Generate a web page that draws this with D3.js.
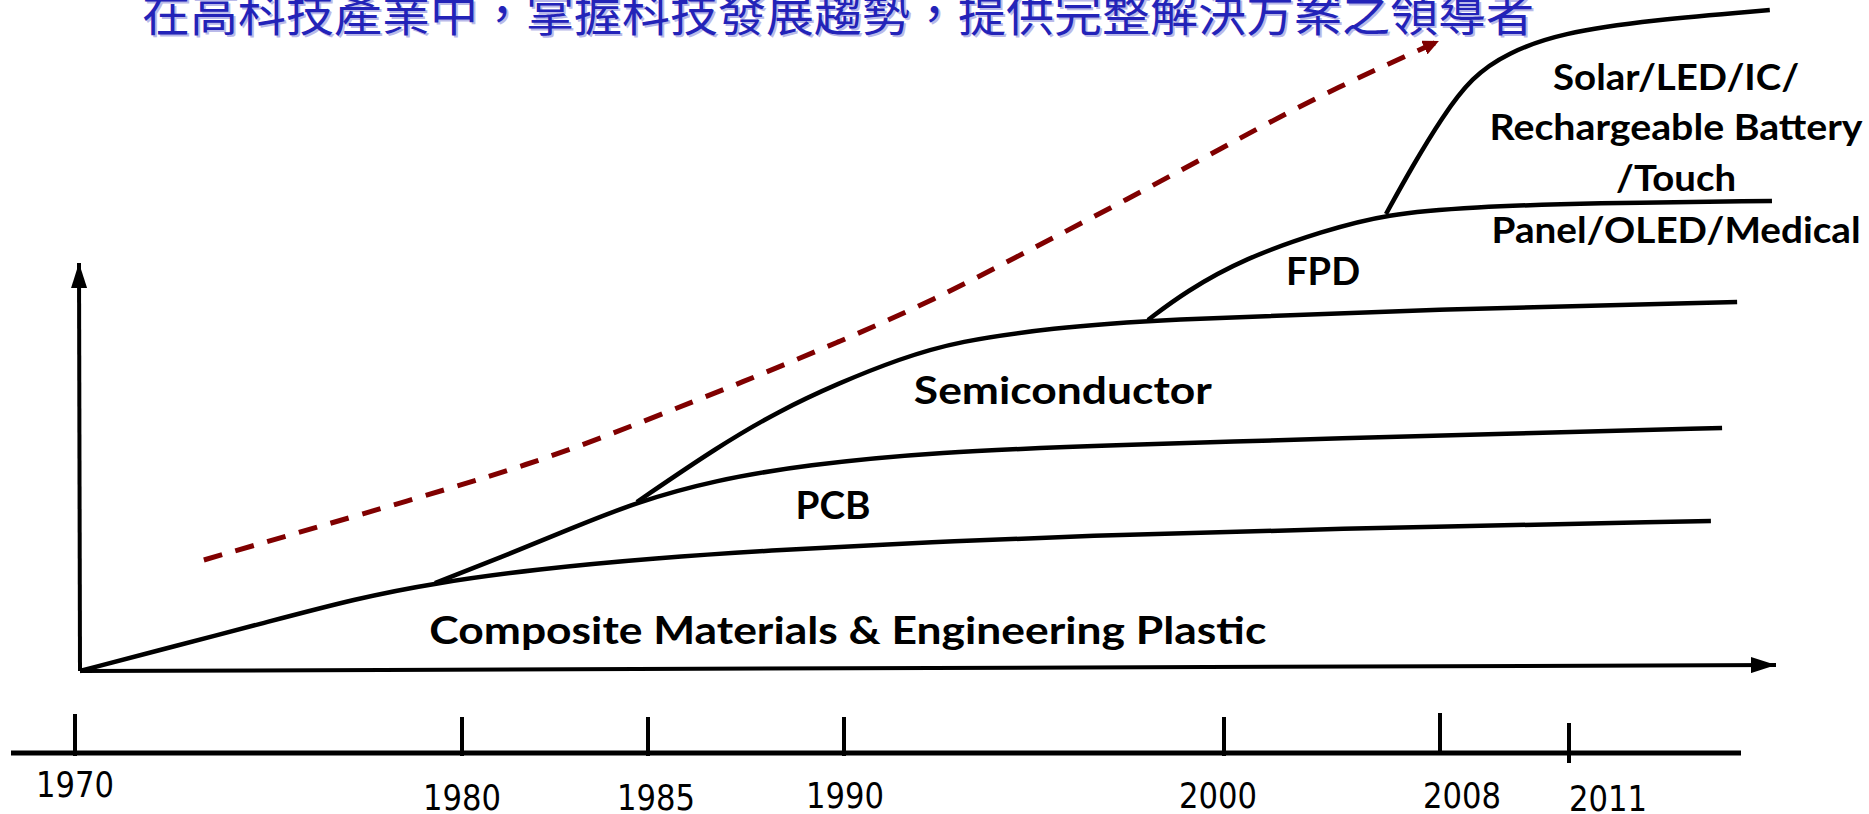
<!DOCTYPE html>
<html><head><meta charset="utf-8">
<script src="https://cdn.jsdelivr.net/npm/d3@7"></script>
<style>html,body{margin:0;padding:0;background:#fff;overflow:hidden}</style>
</head><body>
<svg id="chart" width="1869" height="814"></svg>
<script>
// ---------------- DATA ----------------
const titleText = "在高科技產業中，掌握科技發展趨勢，提供完整解決方案之領導者";
const tickYears = [1970, 1980, 1985, 1990, 2000, 2008, 2011];
const tickLabels = ["1970", "1980", "1985", "1990", "2000", "2008", "2011"];

// each curve: [year, level]
const compositeCurve = [[1970.13,0],[1972.69,6.5],[1974.68,11.5],[1977.31,18.25],[1979.30,22],[1982.02,25.5],[1985.20,28.25],[1988.24,30.25],[1992.39,32.25],[1996.16,33.75],[2003.48,35.5],[2014.30,37.5]];
const pcbCurve = [[1979.30,22],[1981.21,29],[1982.96,35.75],[1984.70,42.25],[1986.73,47.75],[1989.01,51.5],[1992.39,54.75],[1997.11,56.5],[2004.74,58.25],[2010.14,59.5],[2014.56,60.75]];
const semiCurve = [[1984.70,42.25],[1986.81,56.25],[1988.34,65],[1989.87,72],[1991.45,78],[1993.0,82.5],[1995.53,85.75],[1998.0,87.75],[2007.93,90.5],[2014.91,92.25]];
const fpdCurve = [[1998.0,87.75],[1998.97,94.75],[2000.78,103.25],[2003.67,110],[2006.0,114.25],[2008.74,116],[2011.51,117],[2015.72,117.5]];
const newFieldsCurve = [[2006.0,114.25],[2006.96,126],[2008.05,138.5],[2008.74,148.5],[2009.56,154.5],[2010.81,159.5],[2012.91,162.75],[2015.67,165.25]];
const trendCurve = [[1973.33,27.75],[1977.34,39],[1982.02,52],[1984.97,62.75],[1987.42,72.25],[1989.87,82.25],[1992.37,92.75],[1994.89,105.25],[1997.42,117.75],[1999.95,130.75],[2003.48,143.75],[2007.96,157.5]];

const fieldLabels = ["Composite Materials & Engineering Plastic", "PCB", "Semiconductor", "FPD"];
const fieldLabelAnchors = [[1990.1,6.75],[1989.72,38],[1995.76,66.75],[2003.67,96.5]];
const newFieldLines = ["Solar/LED/IC/", "Rechargeable Battery", "/Touch", "Panel/OLED/Medical"];
const newFieldAnchors = [[2013.49,145.25],[2013.49,132.75],[2013.49,120],[2013.49,107]];

// ---------------- LAYOUT ----------------
const L = {
  xRange: [75, 462, 648, 844, 1224, 1440, 1569],
  yRange: [671, 271],
  yAxisTop: 263, axisOriginX: 80, axisOriginY: 671, xAxisEndX: 1776, xAxisEndY: 665,
  timelineY: 753, timelineX0: 11, timelineX1: 1741,
  tickTop: [714, 717, 717, 717, 717, 713, 723],
  tickBottom: [756, 756, 756, 756, 756, 753, 763],
  labelDx: [0, 0, 8, 1, -6, 22, 39],
  labelBaseline: [797, 810, 810, 808, 808, 808, 811],
  fieldLabelWidths: [837, 75, 298, 74],
  newFieldWidths: [246, 373, 120, 369]
};

const svg = d3.select("#chart");
const x = d3.scaleLinear().domain(tickYears).range(L.xRange);
const y = d3.scaleLinear().domain([0, 100]).range(L.yRange);

const defs = svg.append("defs");
function marker(id, color, len, wid) {
  defs.append("marker").attr("id", id)
    .attr("markerUnits", "userSpaceOnUse")
    .attr("viewBox", `0 0 ${len} ${wid}`)
    .attr("markerWidth", len).attr("markerHeight", wid)
    .attr("refX", len).attr("refY", wid / 2)
    .attr("orient", "auto")
    .append("path").attr("d", `M0,0 L${len},${wid/2} L0,${wid} Z`).attr("fill", color);
}
marker("blackArrow", "#000", 25, 16);
marker("redArrow", "#800000", 16, 15);

// Title
const titleG = svg.append("g").attr("font-family", "'Noto Sans CJK TC','Noto Sans CJK SC',sans-serif").attr("font-size", 48);
titleG.append("text").attr("x", 144).attr("y", 33).attr("fill", "#9c9ce0").attr("opacity", 0.7).text(titleText);
titleG.append("text").attr("x", 142).attr("y", 31).attr("fill", "#2323b8").text(titleText);

// Axes of the diagram
svg.append("line").attr("x1", L.axisOriginX).attr("y1", L.axisOriginY)
  .attr("x2", L.axisOriginX - 1).attr("y2", L.yAxisTop)
  .attr("stroke", "#000").attr("stroke-width", 4).attr("marker-end", "url(#blackArrow)");
svg.append("line").attr("x1", L.axisOriginX).attr("y1", L.axisOriginY)
  .attr("x2", L.xAxisEndX).attr("y2", L.xAxisEndY)
  .attr("stroke", "#000").attr("stroke-width", 4).attr("marker-end", "url(#blackArrow)");

// Curves
const line = d3.line().x(d => x(d[0])).y(d => y(d[1])).curve(d3.curveBasis);
[compositeCurve, pcbCurve, semiCurve, fpdCurve, newFieldsCurve].forEach(c => {
  svg.append("path").attr("d", line(c)).attr("fill", "none")
    .attr("stroke", "#000").attr("stroke-width", 4.5).attr("stroke-linecap", "butt");
});

// Trend dashed arrow
svg.append("path").attr("d", line(trendCurve)).attr("fill", "none")
  .attr("stroke", "#800000").attr("stroke-width", 5).attr("stroke-dasharray", "19,14")
  .attr("marker-end", "url(#redArrow)");

// Field labels
const lblFont = "Lato, 'Open Sans', sans-serif";
svg.append("g").selectAll("text").data(fieldLabels).join("text")
  .attr("x", (d, i) => x(fieldLabelAnchors[i][0]))
  .attr("y", (d, i) => y(fieldLabelAnchors[i][1]))
  .attr("text-anchor", "middle")
  .attr("font-family", lblFont).attr("font-weight", 700).attr("font-size", 38)
  .attr("textLength", (d, i) => L.fieldLabelWidths[i]).attr("lengthAdjust", "spacingAndGlyphs")
  .attr("fill", "#000").text(d => d);

svg.append("g").selectAll("text").data(newFieldLines).join("text")
  .attr("x", (d, i) => x(newFieldAnchors[i][0]))
  .attr("y", (d, i) => y(newFieldAnchors[i][1]))
  .attr("text-anchor", "middle")
  .attr("font-family", lblFont).attr("font-weight", 700).attr("font-size", 36)
  .attr("textLength", (d, i) => L.newFieldWidths[i]).attr("lengthAdjust", "spacingAndGlyphs")
  .attr("fill", "#000").text(d => d);

// Timeline
const tl = svg.append("g");
tl.append("line").attr("x1", L.timelineX0).attr("x2", L.timelineX1)
  .attr("y1", L.timelineY).attr("y2", L.timelineY)
  .attr("stroke", "#000").attr("stroke-width", 5);
tl.selectAll(".tick").data(tickYears).join("line")
  .attr("x1", d => x(d)).attr("x2", d => x(d))
  .attr("y1", (d, i) => L.tickTop[i]).attr("y2", (d, i) => L.tickBottom[i])
  .attr("stroke", "#000").attr("stroke-width", 4);
tl.selectAll(".lbl").data(tickLabels).join("text")
  .attr("x", (d, i) => x(tickYears[i]) + L.labelDx[i])
  .attr("y", (d, i) => L.labelBaseline[i])
  .attr("text-anchor", "middle")
  .attr("font-family", "'DejaVu Sans Condensed','DejaVu Sans',sans-serif")
  .attr("font-stretch", "condensed")
  .attr("font-size", 36)
  .attr("textLength", 78).attr("lengthAdjust", "spacingAndGlyphs")
  .attr("fill", "#000").text(d => d);
</script>
</body></html>
